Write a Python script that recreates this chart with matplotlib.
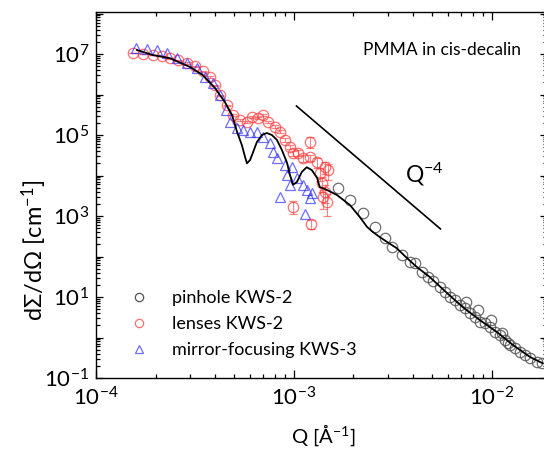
import math
import matplotlib
matplotlib.use("Agg")
import matplotlib.pyplot as plt
from matplotlib.lines import Line2D
from matplotlib.ticker import LogLocator, FixedLocator, FuncFormatter, NullFormatter

plt.rcParams['font.family'] = ['Lato', 'DejaVu Sans']
plt.rcParams['mathtext.fontset'] = 'custom'
plt.rcParams['mathtext.rm'] = 'Lato'
plt.rcParams['mathtext.default'] = 'regular'

# pinhole KWS-2
pin_q = [1.67e-3, 1.92e-3, 2.23e-3, 2.56e-3, 2.88e-3, 3.13e-3, 3.51e-3, 3.85e-3,
         4.08e-3, 4.43e-3, 4.75e-3, 5.04e-3, 5.46e-3, 5.79e-3, 6.14e-3, 6.5e-3,
         6.89e-3, 7.31e-3, 7.4e-3, 7.74e-3, 8.2e-3, 8.5e-3, 8.69e-3, 9.22e-3,
         9.77e-3, 9.9e-3, 1.035e-2, 1.10e-2, 1.12e-2, 1.16e-2, 1.2e-2, 1.23e-2,
         1.31e-2, 1.38e-2, 1.47e-2, 1.56e-2, 1.69e-2, 1.79e-2]
pin_i = [4.9e3, 2.5e3, 1.18e3, 5.3e2, 2.9e2, 1.7e2, 1.1e2, 73,
         69, 42, 31, 25, 17.8, 13.2, 10.0, 8.5,
         6.3, 5.3, 7.5, 4.0, 3.2, 4.7, 2.4, 2.3,
         1.8, 2.7, 1.37, 1.15, 1.3, 0.87, 0.72, 0.65,
         0.55, 0.44, 0.37, 0.31, 0.25, 0.23]

# lenses KWS-2
lens_q = [1.54e-4, 1.73e-4, 1.94e-4, 2.15e-4, 2.36e-4, 2.60e-4, 2.88e-4, 3.16e-4,
          3.47e-4, 3.77e-4, 3.99e-4, 4.23e-4, 4.59e-4, 4.92e-4, 5.34e-4, 5.79e-4,
          6.14e-4, 6.58e-4, 6.97e-4, 7.39e-4, 8.02e-4, 8.49e-4, 9.0e-4, 9.55e-4,
          9.89e-4, 1.05e-3, 1.11e-3, 1.20e-3, 1.20e-3, 1.31e-3, 1.43e-3, 1.49e-3,
          1.35e-3, 1.38e-3, 1.43e-3, 1.40e-3, 1.47e-3, 9.89e-4, 1.22e-3]
lens_i = [1.06e7, 1.0e7, 9.4e6, 8.9e6, 7.9e6, 7.1e6, 6.0e6, 5.0e6,
          3.8e6, 2.7e6, 1.7e6, 9.7e5, 5.4e5, 3.1e5, 2.3e5, 2.1e5,
          2.8e5, 2.6e5, 3.1e5, 2.1e5, 1.6e5, 1.2e5, 7.5e4, 5.0e4,
          3.6e4, 3.6e4, 2.7e4, 2.8e4, 6.7e4, 2.1e4, 1.6e4, 1.37e4,
          1.15e4, 6.5e3, 3.9e3, 2.9e3, 2.2e3, 1.7e3, 6.3e2]
lens_err = [2e5, 2e5, 2e5, 2e5, 2e5, 2e5, 2e5, 1e5,
            1e5, 1e5, 5e4, 3e4, 2e4, 1.5e4, 1.2e4, 1.2e4,
            1.5e4, 1.5e4, 1.8e4, 1.5e4, 1.2e4, 1e4, 8e3, 6e3,
            5e3, 6e3, 5e3, 5e3, 2.0e4, 6e3, 5e3, 6e3,
            4e3, 2.5e3, 1.8e3, 1.4e3, 1.2e3, 6e2, 1.5e2]

# mirror-focusing KWS-3
mir_q = [1.59e-4, 1.81e-4, 2.03e-4, 2.28e-4, 2.57e-4, 2.88e-4, 3.24e-4, 3.55e-4,
         3.90e-4, 4.23e-4, 4.54e-4, 4.75e-4, 5.15e-4, 5.52e-4, 6.0e-4, 6.5e-4,
         6.97e-4, 7.57e-4, 7.83e-4, 8.2e-4, 9.0e-4, 9.77e-4, 9.2e-4, 1.04e-3,
         1.11e-3, 9.5e-4, 1.23e-3, 1.16e-3, 8.5e-4, 1.14e-3, 1.2e-3]
mir_i = [1.4e7, 1.35e7, 1.26e7, 1.06e7, 7.9e6, 6.0e6, 4.5e6, 2.7e6,
         1.9e6, 9.7e5, 4.1e5, 2.1e5, 1.5e5, 1.3e5, 1.2e5, 1.2e5,
         8.9e4, 6.3e4, 3.8e4, 2.7e4, 1.8e4, 1.6e4, 1.03e4, 8.6e3,
         5.8e3, 5.8e3, 3.7e3, 4.5e3, 3.0e3, 1.1e3, 2.8e3]

# model curve
fit_q = [1.61e-4, 1.94e-4, 2.36e-4, 2.98e-4, 3.47e-4, 3.99e-4, 4.48e-4, 4.87e-4,
         5.16e-4, 5.46e-4, 5.66e-4, 5.79e-4, 6.0e-4, 6.14e-4, 6.5e-4, 6.89e-4,
         7.3e-4, 7.74e-4, 8.2e-4, 8.69e-4, 9.22e-4, 9.55e-4, 9.89e-4, 1.035e-3,
         1.097e-3, 1.16e-3, 1.23e-3, 1.31e-3, 1.35e-3, 1.47e-3, 1.65e-3, 1.92e-3,
         2.15e-3, 2.34e-3, 2.51e-3, 2.72e-3, 2.95e-3, 3.31e-3, 3.72e-3, 4.18e-3,
         4.86e-3, 5.93e-3, 7.14e-3, 8.69e-3, 1.06e-2, 1.28e-2, 1.56e-2, 1.81e-2]
fit_i = [1.26e7, 9.4e6, 7.9e6, 4.8e6, 3.0e6, 1.45e6, 6.5e5, 3.1e5,
         1.2e5, 5.6e4, 2.9e4, 2.0e4, 2.4e4, 3.2e4, 6.7e4, 1.0e5,
         1.12e5, 1.0e5, 7.6e4, 4.3e4, 2.1e4, 1.03e4, 5.9e3, 6.9e3,
         1.23e4, 1.6e4, 1.37e4, 8.7e3, 5.2e3, 4.4e3, 3.3e3, 1.86e3,
         9.5e2, 5.4e2, 4.0e2, 3.0e2, 2.3e2, 1.6e2, 92, 55,
         31, 12.6, 5.6, 2.7, 1.37, 0.65, 0.33, 0.23]

# Q^-4 guide line
slope_q = [1.03e-3, 5.5e-3]
slope_i = [5.2e5, 4.8e2]

pin_col = '#555555'
lens_col = '#ff3535'
mir_col = '#2f2fff'

fig = plt.figure(figsize=(5.44, 4.5), dpi=100)
ax = fig.add_axes([96 / 544, 72 / 450, 451 / 544, 366 / 450])

ax.plot(pin_q, pin_i, 'o', ms=7.5, mfc='none', mec=pin_col, mew=0.9,
        alpha=0.85, zorder=2)
ax.errorbar(lens_q, lens_i, yerr=lens_err, fmt='o', ms=7.5, mfc='none',
            mec=lens_col, mew=0.9, ecolor='#ff5050', elinewidth=0.8,
            capsize=3, alpha=0.7, zorder=2)
ax.plot(mir_q, mir_i, '^', ms=7.5, mfc='none', mec=mir_col, mew=0.9,
        alpha=0.7, zorder=3)
ax.plot(fit_q, fit_i, '-', color='black', lw=1.3, zorder=4)
ax.plot(slope_q, slope_i, '-', color='black', lw=1.2, zorder=4)

ax.set_xscale('log')
ax.set_yscale('log')
ax.set_xlim(1e-4, 1.9e-2)
ax.set_ylim(1e-1, 1.09e8)

ax.xaxis.set_major_locator(FixedLocator([1e-4, 1e-3, 1e-2]))
ax.xaxis.set_minor_locator(LogLocator(base=10, subs=range(2, 10)))
ax.xaxis.set_minor_formatter(NullFormatter())
ax.xaxis.set_major_formatter(FuncFormatter(
    lambda v, p: '$10^{%d}$' % round(math.log10(v))))

ax.yaxis.set_major_locator(FixedLocator([10.0 ** k for k in range(-1, 9)]))
ax.yaxis.set_minor_locator(LogLocator(base=10, subs=range(2, 10), numticks=20))
ax.yaxis.set_minor_formatter(NullFormatter())


def ylab(v, p):
    k = round(math.log10(v))
    return '$10^{%d}$' % k if k % 2 else ''


ax.yaxis.set_major_formatter(FuncFormatter(ylab))

ax.tick_params(which='both', direction='in', top=True, right=True,
               labelsize=16, width=0.9)
ax.tick_params(axis='x', which='major', length=6, pad=6)
ax.tick_params(axis='y', which='major', length=5, pad=5)
ax.tick_params(which='minor', length=3)
for s in ax.spines.values():
    s.set_linewidth(1.0)

fig.text(323 / 544, 1 - 435 / 450, 'Q [Å$^{-1}$]', ha='center', va='center',
         fontsize=14.5)
fig.text(34 / 544, 1 - 250 / 450, 'dΣ/dΩ [cm$^{-1}$]', ha='center',
         va='center', rotation=90, fontsize=17)

fig.text(442 / 544, 1 - 50 / 450, 'PMMA in cis-decalin', ha='center',
         va='center', fontsize=12.5)
fig.text(405 / 544, 1 - 174 / 450, 'Q$^{-4}$', ha='left', va='center',
         fontsize=16.5)

handles = [
    Line2D([], [], ls='none', marker='o', ms=6, mfc='none', mec=pin_col, mew=0.9),
    Line2D([], [], ls='none', marker='o', ms=6, mfc='none', mec=lens_col, mew=0.9, alpha=0.7),
    Line2D([], [], ls='none', marker='^', ms=6, mfc='none', mec=mir_col, mew=0.9, alpha=0.7),
]
labels = ['pinhole KWS-2', 'lenses KWS-2', 'mirror-focusing KWS-3']
ax.legend(handles, labels, loc='lower left', bbox_to_anchor=(0.04, 0.01),
          frameon=False, fontsize=13, handlelength=1.0, handletextpad=1.3,
          labelspacing=0.55)

fig.savefig('out.png', dpi=100)
